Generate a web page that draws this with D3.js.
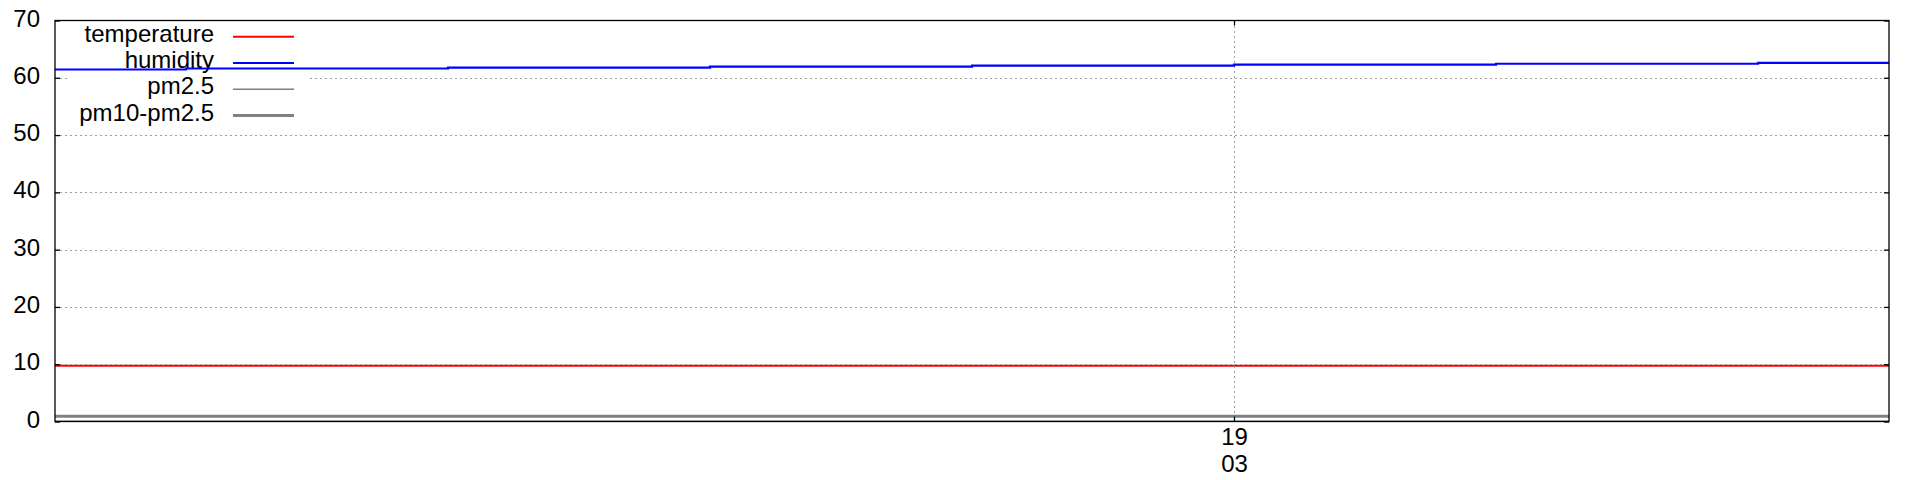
<!DOCTYPE html>
<html><head><meta charset="utf-8">
<script src="https://cdn.jsdelivr.net/npm/d3@7"></script>
<style>body{margin:0;background:#fff}svg{display:block}</style>
</head><body><svg id="c" width="1920" height="480"></svg>
<script>
// ---- data ----
const times = ["2021-03-19T02:15","2021-03-19T02:20","2021-03-19T02:30","2021-03-19T02:40","2021-03-19T02:50","2021-03-19T03:00","2021-03-19T03:10","2021-03-19T03:20","2021-03-19T03:25"];
const temperature = [9.75, 9.75, 9.75, 9.75, 9.75, 9.75, 9.75, 9.75, 9.75];
const humidity    = [61.45, 61.62, 61.79, 61.96, 62.12, 62.29, 62.45, 62.61, 62.61];
const pm25        = [0.05, 0.05, 0.05, 0.05, 0.05, 0.05, 0.05, 0.05, 0.05];
const pm10_pm25   = [0.9, 0.9, 0.9, 0.9, 0.9, 0.9, 0.9, 0.9, 0.9];
const seriesNames = ["temperature", "humidity", "pm2.5", "pm10-pm2.5"];
const yTicks = [0, 10, 20, 30, 40, 50, 60, 70];
const xTicks = ["2021-03-19T03:00"];

// ---- layout ----
const svg = d3.select("#c");
const L = 55, R = 1889, T = 20.5, B = 421.5;
const font = "'Liberation Sans', Arial, sans-serif";
const FS = 24;
const parse = d3.timeParse("%Y-%m-%dT%H:%M");
const tdates = times.map(parse);
const x = d3.scaleTime().domain([tdates[0], tdates[tdates.length - 1]]).range([L, R]);
const y = d3.scaleLinear().domain([0, 70]).range([B, T]);

const styles = [
  {name: seriesNames[0], vals: temperature, color: "#ff0000", w: 2},
  {name: seriesNames[1], vals: humidity, color: "#0000ff", w: 2.2},
  {name: seriesNames[2], vals: pm25, color: "#808080", w: 1.5},
  {name: seriesNames[3], vals: pm10_pm25, color: "#808080", w: 3}
];
const line = vals => d3.line().curve(d3.curveStepAfter)
  .x((d, i) => x(tdates[i])).y(d => y(d))(vals);

// temperature first (grid drawn over it)
svg.append("path").attr("d", line(styles[0].vals)).attr("fill", "none")
  .attr("stroke", styles[0].color).attr("stroke-width", styles[0].w);

// grid
const grid = svg.append("g").attr("stroke", "#a0a0a0").attr("stroke-width", 1)
  .attr("stroke-dasharray", "2,3").attr("shape-rendering", "crispEdges");
yTicks.filter(v => v > 0 && v < 70).forEach(v => {
  grid.append("line").attr("x1", L).attr("x2", R).attr("y1", Math.round(y(v)) + 0.5).attr("y2", Math.round(y(v)) + 0.5);
});
xTicks.map(parse).forEach(d => {
  grid.append("line").attr("x1", Math.round(x(d)) + 0.5).attr("x2", Math.round(x(d)) + 0.5).attr("y1", T).attr("y2", B);
});

// opaque key
svg.append("rect").attr("x", 67).attr("y", T + 1).attr("width", 241).attr("height", 106).attr("fill", "#fff");
const key = svg.append("g");
styles.forEach((s, i) => {
  const ly = 36.7 + i * 26.3;
  key.append("text").attr("x", 214).attr("y", ly + 5).attr("text-anchor", "end")
    .attr("font-family", font).attr("font-size", FS).attr("fill", "#000").text(s.name);
  key.append("line").attr("x1", 233).attr("x2", 294).attr("y1", ly).attr("y2", ly)
    .attr("stroke", s.color).attr("stroke-width", s.w);
});

// remaining series
[styles[2], styles[3], styles[1]].forEach(s => {
  svg.append("path").attr("d", line(s.vals)).attr("fill", "none")
    .attr("stroke", s.color).attr("stroke-width", s.w);
});

// border
svg.append("rect").attr("x", L).attr("y", T).attr("width", R - L).attr("height", B - T)
  .attr("fill", "none").attr("stroke", "#000").attr("stroke-width", 1.3);

// axes (ticks inward, mirrored)
const yAxisL = d3.axisLeft(y).tickValues(yTicks).tickSizeInner(-5).tickSizeOuter(0);
const gL = svg.append("g").attr("transform", `translate(${L},0)`).call(yAxisL);
gL.select(".domain").remove();
gL.selectAll("text").attr("font-family", font).attr("font-size", FS).attr("fill", "#000")
  .attr("x", -15).attr("dy", "0.23em");
gL.selectAll("line").attr("stroke", "#000").attr("stroke-width", 1.3);

const yAxisR = d3.axisRight(y).tickValues(yTicks).tickSizeInner(-5).tickSizeOuter(0).tickFormat("");
const gR = svg.append("g").attr("transform", `translate(${R},0)`).call(yAxisR);
gR.select(".domain").remove();
gR.selectAll("line").attr("stroke", "#000").attr("stroke-width", 1.3);

const xAxisB = d3.axisBottom(x).tickValues(xTicks.map(parse)).tickSizeInner(-5).tickSizeOuter(0).tickFormat("");
const gB = svg.append("g").attr("transform", `translate(0,${B})`).call(xAxisB);
gB.select(".domain").remove();
gB.selectAll("line").attr("stroke", "#000").attr("stroke-width", 1.3);
const fmtD = d3.timeFormat("%d"), fmtH = d3.timeFormat("%H");
gB.selectAll(".tick").each(function(d) {
  const t = d3.select(this).append("text").attr("font-family", font).attr("font-size", FS)
    .attr("fill", "#000").attr("text-anchor", "middle");
  t.append("tspan").attr("x", 0).attr("y", 23.5).text(fmtD(d));
  t.append("tspan").attr("x", 0).attr("y", 50.5).text(fmtH(d));
});

const xAxisT = d3.axisTop(x).tickValues(xTicks.map(parse)).tickSizeInner(-5).tickSizeOuter(0).tickFormat("");
const gT = svg.append("g").attr("transform", `translate(0,${T})`).call(xAxisT);
gT.select(".domain").remove();
gT.selectAll("line").attr("stroke", "#000").attr("stroke-width", 1.3);
</script></body></html>
